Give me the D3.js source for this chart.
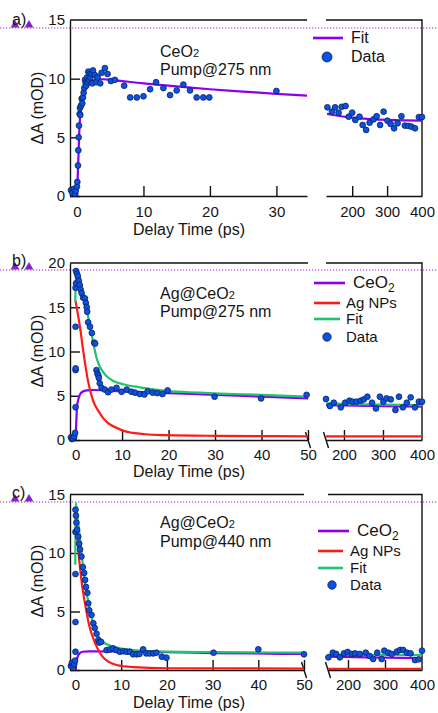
<!DOCTYPE html>
<html>
<head>
<meta charset="utf-8">
<script src="https://cdn.jsdelivr.net/npm/d3@7"></script>
<style>
    body { margin: 0; background: #fff; }
    svg text { font-family: "Liberation Sans", Arial, sans-serif; fill: #151515; }
</style>
</head>
<body>
<svg id="chart" width="438" height="713"></svg>
<script>
const PURPLE = '#8a00f0'
const RED = '#ff1a1a'
const GREEN = '#1fc46e'
const BLUE = '#0b52e3'

// ---- panel a: CeO2, pump 275 nm ----
const A_FIT_LEFT = [[0, 0], [0.1, 1.5], [0.2, 3], [0.3, 4.8], [0.45, 6.6], [0.6, 7.4], [0.8, 8.2], [1, 8.7],
    [1.5, 9.3], [2, 9.65], [3, 9.95], [4, 9.95], [5, 9.9], [10, 9.6], [15, 9.35], [20, 9.1], [25, 8.9], [30, 8.7], [34.6, 8.55]]
const A_FIT_RIGHT = [[128, 7.0], [150, 6.88], [200, 6.68], [250, 6.56], [300, 6.48], [350, 6.44], [400, 6.42]]
const A_DATA_LEFT = [[-0.9, 0.5], [-0.7, 0.3], [-0.5, 0.6], [-0.3, 0.2], [-0.2, 0.45], [0, 0.8], [0.05, 1.2], [0.15, 2.6],
    [0.2, 3.9], [0.25, 5.0], [0.3, 6.0], [0.4, 7.0], [0.45, 7.5], [0.5, 6.9], [0.6, 7.7], [0.7, 8.3], [0.8, 7.9], [0.9, 8.4],
    [1.0, 8.8], [1.1, 9.2], [1.2, 9.9], [1.3, 9.6], [1.4, 9.4], [1.5, 10.1], [1.6, 9.7], [1.7, 10.6], [1.8, 9.9], [1.9, 10.4],
    [2.0, 10.1], [2.2, 10.4], [2.3, 9.6], [2.4, 10.7], [2.7, 10.3], [2.9, 9.7], [3.1, 10.1], [3.5, 9.6], [3.7, 10.5],
    [4.2, 10.9], [4.6, 10.4], [5.1, 9.8], [5.7, 9.9], [7.1, 9.4], [8, 8.4], [9, 8.4], [10, 8.5], [11, 9.1], [11.9, 9.7],
    [13, 9.2], [14, 8.6], [15, 9.0], [16, 9.5], [17, 9.0], [18, 8.4], [19, 8.4], [19.9, 8.4], [30, 8.95]]
const A_DATA_RIGHT = [[129, 7.56], [142, 7.19], [151, 7.56], [161, 7.1], [170, 7.6], [181, 7.67], [190, 6.76], [200, 7.1],
    [209, 6.48], [221, 6.76], [230, 6.05], [240, 5.63], [250, 6.25], [261, 6.53], [270, 6.8], [280, 6.05], [290, 7.19],
    [301, 6.42], [310, 6.14], [320, 5.77], [330, 6.2], [341, 6.8], [351, 6.0], [361, 5.97], [370, 5.91], [380, 5.77],
    [391, 6.73], [400, 6.73]]

// ---- panel b: Ag@CeO2, pump 275 nm ----
const B_CEO2_LEFT = [[0, 0], [0.15, 2], [0.3, 3.7], [0.6, 4.6], [1, 5.2], [1.5, 5.45], [2.4, 5.6], [4, 5.65], [6, 5.6],
    [10, 5.5], [20, 5.3], [30, 5.1], [40, 4.9], [50, 4.7]]
const B_CEO2_RIGHT = [[154, 3.95], [200, 3.9], [250, 3.86], [300, 3.82], [350, 3.79], [400, 3.77]]
const B_AG_LEFT = [[0, 15.7], [0.5, 14.2], [1, 12.6], [1.5, 10.6], [2, 8.8], [2.7, 6.6], [3.8, 4.4], [5, 3.2], [5.9, 2.5],
    [7, 1.9], [8.9, 1.35], [10.5, 1.0], [12.3, 0.8], [15, 0.65], [19.5, 0.55], [30, 0.47], [50, 0.42]]
const B_AG_RIGHT = [[154, 0.4], [400, 0.4]]
const B_FIT_LEFT = [[-0.05, 15.6], [0.05, 19], [0.3, 18.6], [0.7, 17.8], [1.3, 16.9], [2.4, 14.7], [3, 13.2], [3.8, 11.0],
    [4.5, 9.3], [5.2, 8.3], [6.7, 7.2], [8, 6.7], [10.2, 6.3], [13.8, 5.95], [19.5, 5.55], [26.7, 5.35], [31, 5.25],
    [40, 5.1], [49.5, 4.9]]
const B_FIT_RIGHT = [[154, 4.15], [200, 4.08], [300, 4.0], [400, 3.95]]
const B_DATA_LEFT = [[-1.0, 0.3], [-0.8, 0.1], [-0.6, 0.2], [-0.3, 0.4], [-0.1, 0.8], [0, 3.7], [0, 7.9], [0.02, 8.1],
    [0, 12.8], [0, 17.2], [0.1, 17.7], [0.1, 19.1], [0.3, 18.8], [0.5, 18.5], [0.7, 18.0], [0.9, 17.5], [1.1, 17.0],
    [1.3, 16.6], [1.6, 16.1], [2.0, 16.0], [2.2, 15.5], [2.4, 15.0], [2.5, 14.5], [2.7, 13.3], [3.1, 12.8], [3.5, 12.1],
    [4.0, 11.0], [4.2, 10.9], [4.5, 7.9], [4.7, 7.5], [4.9, 7.3], [5.0, 7.0], [5.2, 6.4], [5.6, 5.9], [6.3, 5.7],
    [7.0, 5.4], [7.7, 5.7], [8.8, 5.9], [9.9, 5.45], [11, 5.7], [12, 5.45], [12.8, 5.35], [13.8, 5.2], [14.8, 5.15],
    [15.5, 5.5], [16.6, 5.35], [17.6, 5.3], [18.7, 5.2], [19.8, 5.6], [29.9, 4.9], [39.9, 4.7], [49.7, 5.1]]
const B_DATA_RIGHT = [[154, 4.63], [164, 3.84], [174, 4.21], [192, 3.69], [203, 4.21], [214, 4.44], [222, 4.33],
    [232, 4.33], [243, 4.44], [251, 4.59], [260, 4.89], [272, 4.21], [282, 3.57], [292, 4.89], [301, 4.33], [309, 4.7],
    [320, 4.59], [332, 3.39], [341, 4.89], [351, 3.69], [361, 4.21], [371, 4.82], [382, 3.69], [392, 4.33], [400, 4.33]]

// ---- panel c: Ag@CeO2, pump 440 nm ----
const C_CEO2_LEFT = [[0, 0.1], [0.3, 0.9], [0.6, 1.25], [1, 1.45], [1.5, 1.56], [3, 1.6], [10, 1.58], [20, 1.52],
    [30, 1.45], [50, 1.37]]
const C_CEO2_RIGHT = [[146, 1.14], [250, 1.08], [400, 1.02]]
const C_AG_LEFT = [[0, 13], [0.4, 11.2], [1, 8.7], [1.5, 7.1], [2.3, 5.2], [3, 3.8], [4.3, 2.3], [6, 1.1], [7.5, 0.65],
    [9, 0.43], [12.6, 0.25], [20, 0.15], [50, 0.12]]
const C_AG_RIGHT = [[146, 0.1], [400, 0.1]]
const C_FIT_LEFT = [[-0.05, 9.0], [0.05, 14.3], [0.4, 13.2], [1, 11.2], [1.6, 9.0], [2.4, 6.6], [2.8, 5.9], [3.5, 4.5],
    [4.6, 3.2], [6, 2.4], [8.2, 2.0], [12.6, 1.7], [20, 1.57], [30, 1.53], [50, 1.48]]
const C_FIT_RIGHT = [[146, 1.3], [400, 1.28]]
const C_DATA_LEFT = [[-1.0, 0.35], [-0.8, 0.6], [-0.5, 0.3], [-0.3, 0.5], [-0.1, 0.8], [0, 1.56], [0, 4.1], [0, 8.2],
    [0, 11.8], [0, 13.7], [0.1, 13.2], [0.2, 12.6], [0.35, 12.0], [0.6, 11.4], [0.8, 10.8], [1.0, 10.3], [1.3, 9.7],
    [1.6, 8.8], [1.9, 8.3], [2.1, 7.7], [2.3, 7.1], [2.6, 6.6], [2.8, 5.7], [3, 5.1], [3.5, 4.7], [3.9, 4.0], [4.2, 3.6],
    [4.6, 3.1], [5, 2.56], [5.2, 2.35], [5.6, 2.4], [6.8, 1.7], [7.5, 1.75], [8.2, 1.85], [8.9, 1.7], [9.7, 1.56],
    [10.5, 1.6], [11.2, 1.56], [11.9, 1.56], [12.6, 1.34], [13.4, 1.34], [14, 1.37], [14.8, 1.77], [15.5, 1.42],
    [16.2, 1.42], [17, 1.42], [17.7, 1.48], [18.9, 1.14], [19.9, 1.05], [30.2, 1.48], [40, 1.77], [50, 1.34]]
const C_DATA_RIGHT = [[147, 1.08], [159, 1.48], [168, 1.37], [178, 1.08], [189, 1.42], [199, 1.54], [210, 1.37],
    [219, 1.42], [232, 1.37], [248, 1.48], [258, 1.2], [268, 0.94], [279, 1.48], [291, 0.94], [298, 1.65], [309, 1.48],
    [318, 1.37], [332, 1.57], [341, 1.71], [349, 1.71], [359, 1.48], [369, 1.42], [381, 0.85], [391, 0.91], [400, 1.65]]

const TICKS_A_LEFT = [0, 10, 20, 30]
const TICKS_BC_LEFT = [0, 10, 20, 30, 40, 50]
const TICKS_RIGHT = [200, 300, 400]
const Y_TICKS_15 = [0, 5, 10, 15]
const Y_TICKS_20 = [0, 5, 10, 15, 20]

const svg = d3.select('#chart')

const panels = [
    {
        tag: 'a)', tagY: 25, guideY: 28,
        y: [0, 15], yRange: [196, 20], yTicks: Y_TICKS_15,
        xL: [-1.05, 34.6], xLRange: [70, 307], xR: [125, 400], xRRange: [326, 422],
        ticksL: TICKS_A_LEFT, breaks: false, tickLabelY: 21, titleY: 235, yTitleY: 108,
        note: [{x: 160, y: 57, sample: 'CeO', sub: '2'}, {x: 160, y: 75, text: 'Pump@275 nm'}],
        series: [{color: PURPLE, left: A_FIT_LEFT, right: A_FIT_RIGHT}],
        dataL: A_DATA_LEFT, dataR: A_DATA_RIGHT,
        legend: {lineX: 313, textX: 351, size: 16, dotR: 5, dotX: 327,
            items: [{label: 'Fit', color: PURPLE, y: 38, lineW: 30}, {label: 'Data', dot: true, y: 57}]}
    },
    {
        tag: 'b)', tagY: 266, guideY: 270,
        y: [0, 20], yRange: [440, 263], yTicks: Y_TICKS_20,
        xL: [-1.2, 50], xLRange: [70, 308], xR: [154, 400], xRRange: [326, 422],
        ticksL: TICKS_BC_LEFT, breaks: true, tickLabelY: 20, titleY: 477, yTitleY: 351,
        note: [{x: 160, y: 299, sample: 'Ag@CeO', sub: '2'}, {x: 160, y: 317, text: 'Pump@275 nm'}],
        series: [{color: PURPLE, left: B_CEO2_LEFT, right: B_CEO2_RIGHT},
            {color: RED, left: B_AG_LEFT, right: B_AG_RIGHT},
            {color: GREEN, left: B_FIT_LEFT, right: B_FIT_RIGHT}],
        dataL: B_DATA_LEFT, dataR: B_DATA_RIGHT,
        legend: {lineX: 314, textX: 346, size: 15, dotR: 4.2, dotX: 327,
            items: [{label: 'CeO', sub: '2', color: PURPLE, y: 283, lineW: 31, big: true},
                {label: 'Ag NPs', color: RED, y: 303, lineW: 26},
                {label: 'Fit', color: GREEN, y: 319, lineW: 26},
                {label: 'Data', dot: true, y: 337}]}
    },
    {
        tag: 'c)', tagY: 498, guideY: 502,
        y: [0, 15], yRange: [670, 494.5], yTicks: Y_TICKS_15,
        xL: [-1.2, 50], xLRange: [70, 304], xR: [146, 400], xRRange: [328, 422],
        ticksL: TICKS_BC_LEFT, breaks: true, tickLabelY: 20, titleY: 708, yTitleY: 581,
        note: [{x: 160, y: 528, sample: 'Ag@CeO', sub: '2'}, {x: 160, y: 547, text: 'Pump@440 nm'}],
        series: [{color: PURPLE, left: C_CEO2_LEFT, right: C_CEO2_RIGHT},
            {color: RED, left: C_AG_LEFT, right: C_AG_RIGHT},
            {color: GREEN, left: C_FIT_LEFT, right: C_FIT_RIGHT}],
        dataL: C_DATA_LEFT, dataR: C_DATA_RIGHT,
        legend: {lineX: 318, textX: 350, size: 15, dotR: 4.2, dotX: 332,
            items: [{label: 'CeO', sub: '2', color: PURPLE, y: 531, lineW: 31, big: true},
                {label: 'Ag NPs', color: RED, y: 551, lineW: 25},
                {label: 'Fit', color: GREEN, y: 568, lineW: 25},
                {label: 'Data', dot: true, y: 585}]}
    }
]

function styleAxis(g) {
    g.selectAll('path.domain').attr('stroke', '#111').attr('stroke-width', 1.4)
    g.selectAll('.tick line').attr('stroke', '#111').attr('stroke-width', 1.4)
    g.selectAll('.tick text').attr('font-size', 15).attr('font-family', '"Liberation Sans", Arial, sans-serif')
        .attr('fill', '#151515')
}

function drawPanel(p) {
    const g = svg.append('g')
    const y = d3.scaleLinear().domain(p.y).range(p.yRange)
    const xL = d3.scaleLinear().domain(p.xL).range(p.xLRange)
    const xR = d3.scaleLinear().domain(p.xR).range(p.xRRange)
    const y0 = p.yRange[0], yTop = p.yRange[1]

    // cursor guide line and the two markers at the left
    g.append('line').attr('x1', 0).attr('x2', 438).attr('y1', p.guideY).attr('y2', p.guideY)
        .attr('stroke', '#9a2fd6').attr('stroke-width', 1.2).attr('stroke-dasharray', '1.3,1.7')
    g.selectAll('.marker').data([15, 29]).enter().append('path')
        .attr('transform', (d) => `translate(${d},${p.guideY - 3})`)
        .attr('d', d3.symbol(d3.symbolTriangle).size(34))
        .attr('fill', '#8a1fc8')
    g.append('text').attr('x', 12).attr('y', p.tagY).attr('font-size', 16).text(p.tag)

    // frame: top pieces and right side
    g.append('line').attr('x1', p.xLRange[0]).attr('x2', p.xLRange[1]).attr('y1', yTop).attr('y2', yTop)
        .attr('stroke', '#111').attr('stroke-width', 1.4)
    g.append('line').attr('x1', p.xRRange[0]).attr('x2', p.xRRange[1]).attr('y1', yTop).attr('y2', yTop)
        .attr('stroke', '#111').attr('stroke-width', 1.4)
    g.append('line').attr('x1', p.xRRange[1]).attr('x2', p.xRRange[1]).attr('y1', yTop - 0.7).attr('y2', y0)
        .attr('stroke', '#111').attr('stroke-width', 1.4)

    const yAxis = g.append('g').attr('transform', `translate(${p.xLRange[0]},0)`)
        .call(d3.axisLeft(y).tickValues(p.yTicks).tickSizeInner(-10).tickSizeOuter(0).tickPadding(5))
    styleAxis(yAxis)
    yAxis.selectAll('.tick line').filter((d) => d === p.y[1]).remove()

    const bottomL = g.append('g').attr('transform', `translate(0,${y0})`)
        .call(d3.axisBottom(xL).tickValues(p.ticksL).tickSizeInner(-10).tickSizeOuter(0))
    const bottomR = g.append('g').attr('transform', `translate(0,${y0})`)
        .call(d3.axisBottom(xR).tickValues(TICKS_RIGHT).tickSizeInner(-10).tickSizeOuter(0))
    ;[bottomL, bottomR].forEach((ax) => {
        styleAxis(ax)
        ax.selectAll('.tick text').attr('dy', 0).attr('y', p.tickLabelY)
    })
    bottomR.selectAll('.tick line').filter((d) => d === 400).remove()

    if (p.breaks) {
        [p.xLRange[1], p.xRRange[0]].forEach((bx) => {
            g.append('line').attr('x1', bx - 2.5).attr('x2', bx + 2.5).attr('y1', y0 - 8).attr('y2', y0 + 8)
                .attr('stroke', '#111').attr('stroke-width', 1.4)
        })
    }

    // fitted curves
    const lineL = d3.line().x((d) => xL(d[0])).y((d) => y(d[1])).curve(d3.curveMonotoneX)
    const lineR = d3.line().x((d) => xR(d[0])).y((d) => y(d[1])).curve(d3.curveMonotoneX)
    p.series.forEach((s) => {
        g.append('path').attr('d', lineL(s.left)).attr('fill', 'none').attr('stroke', s.color).attr('stroke-width', 2.2)
        g.append('path').attr('d', lineR(s.right)).attr('fill', 'none').attr('stroke', s.color).attr('stroke-width', 2.2)
    })

    // measured points
    const dots = (data, x) => g.append('g').selectAll('circle').data(data).enter().append('circle')
        .attr('cx', (d) => x(d[0])).attr('cy', (d) => y(d[1])).attr('r', 2.9)
        .attr('fill', BLUE).attr('stroke', '#0a1f5c').attr('stroke-width', 0.8)
    dots(p.dataL, xL)
    dots(p.dataR, xR)

    // sample note
    p.note.forEach((n) => {
        const t = g.append('text').attr('x', n.x).attr('y', n.y).attr('font-size', 16)
        if (n.sample) {
            t.append('tspan').text(n.sample)
            t.append('tspan').attr('font-size', 11).text(n.sub)
        } else {
            t.text(n.text)
        }
    })

    // legend
    const lg = p.legend
    lg.items.forEach((it) => {
        if (it.dot) {
            g.append('circle').attr('cx', lg.dotX).attr('cy', it.y).attr('r', lg.dotR)
                .attr('fill', BLUE).attr('stroke', '#0a1f5c').attr('stroke-width', 0.8)
        } else {
            g.append('line').attr('x1', lg.lineX).attr('x2', lg.lineX + it.lineW).attr('y1', it.y).attr('y2', it.y)
                .attr('stroke', it.color).attr('stroke-width', 2.6)
        }
        const tx = it.big ? lg.textX + 7 : lg.textX
        const t = g.append('text').attr('x', tx).attr('y', it.y + 5).attr('font-size', it.big ? 17 : lg.size)
        t.append('tspan').text(it.label)
        if (it.sub) t.append('tspan').attr('font-size', 12).attr('dy', 4).text(it.sub)
    })

    // axis titles
    g.append('text').attr('transform', `translate(43,${p.yTitleY}) rotate(-90)`)
        .attr('text-anchor', 'middle').attr('font-size', 16).text('ΔA (mOD)')
    g.append('text').attr('x', 189).attr('y', p.titleY).attr('text-anchor', 'middle')
        .attr('font-size', 16).text('Delay Time (ps)')
}

panels.forEach(drawPanel)
</script>
</body>
</html>
